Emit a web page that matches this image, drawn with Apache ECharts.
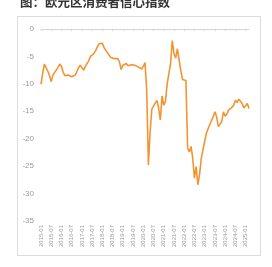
<!DOCTYPE html>
<html>
<head>
<meta charset="utf-8">
<script src="https://cdn.jsdelivr.net/npm/echarts@6/dist/echarts.min.js"></script>
<style>
  html, body { margin: 0; padding: 0; background: #fff; }
  #chart { width: 272px; height: 267px; }
</style>
</head>
<body>
<div id="chart"></div>
<script>
// 欧元区消费者信心指数 (2015-01 ~ 2025-03, 月度)
const titleText = '图：欧元区消费者信心指数';

const startYear = 2015;
const months = [];
for (let i = 0; i < 123; i++) {
  const y = startYear + Math.floor(i / 12);
  const m = (i % 12) + 1;
  months.push(y + '-' + (m < 10 ? '0' + m : m));
}

const values2015 = [-10.1, -8.0, -6.4, -6.7, -7.7, -8.5, -9.6, -8.4, -7.9, -7.6, -7.0, -6.4];
const values2016 = [-6.8, -7.9, -8.5, -8.3, -8.4, -8.3, -8.7, -8.5, -8.4, -7.8, -7.1, -6.6];
const values2017 = [-6.6, -7.5, -6.8, -6.5, -5.8, -5.0, -4.7, -4.5, -4.0, -3.3, -2.7, -2.4];
const values2018 = [-2.6, -3.4, -3.9, -4.2, -4.8, -5.2, -5.2, -5.4, -5.6, -5.4, -6.0, -7.4];
const values2019 = [-6.6, -6.4, -6.3, -6.7, -6.6, -6.5, -6.7, -6.6, -6.8, -6.9, -7.0, -7.3];
const values2020 = [-6.8, -6.1, -11.1, -24.8, -18.8, -14.6, -14.5, -13.5, -13.0, -14.4, -16.6, -12.2];
const values2021 = [-13.9, -13.2, -10.0, -9.9, -6.3, -2.1, -4.5, -5.3, -3.6, -5.6, -7.6, -9.2];
const values2022 = [-9.4, -9.4, -21.7, -22.4, -21.4, -23.6, -27.2, -25.1, -28.4, -26.5, -23.6, -22.0];
const values2023 = [-20.5, -19.0, -18.8, -17.4, -17.3, -16.0, -15.1, -16.0, -17.8, -17.9, -16.9, -15.1];
const values2024 = [-15.9, -15.5, -14.8, -14.6, -14.3, -13.9, -13.0, -13.4, -12.8, -12.5, -13.6, -14.4];
const values2025 = [-14.2, -13.6, -14.5];

const confidence = [].concat(values2015, values2016, values2017, values2018, values2019,
  values2020, values2021, values2022, values2023, values2024, values2025);

const yTicks = [0, -5, -10, -15, -20, -25, -30, -35];

const chart = echarts.init(document.getElementById('chart'));
chart.setOption({
  backgroundColor: '#fff',
  animation: false,
  title: {
    text: titleText,
    left: 20,
    top: -4,
    padding: 0,
    textStyle: { fontSize: 12.5, fontWeight: 'bold', color: '#333', fontFamily: 'Noto Sans CJK SC' }
  },
  graphic: [{
    type: 'rect',
    shape: { x: 17.5, y: 16.5, width: 243, height: 239 },
    style: { fill: 'none', stroke: '#dcdcdc', lineWidth: 1 },
    silent: true,
    z: -1
  }],
  grid: { left: 41, right: 23, top: 29, bottom: 46 },
  xAxis: [{
    type: 'category',
    data: months,
    boundaryGap: false,
    axisLine: { show: false },
    axisTick: { show: false },
    axisLabel: {
      interval: 5,
      rotate: 90,
      fontSize: 6,
      margin: 4,
      color: '#9a9a9a',
      fontFamily: 'Liberation Sans'
    },
    splitLine: { show: false }
  }, {
    type: 'category',
    data: months,
    position: 'top',
    boundaryGap: false,
    axisLine: { show: true, lineStyle: { color: '#d6d6d6', width: 1 } },
    axisTick: { show: true, inside: true, interval: 5, length: 2, lineStyle: { color: '#d6d6d6' } },
    axisLabel: { show: false },
    splitLine: { show: false }
  }],
  yAxis: {
    type: 'value',
    min: yTicks[yTicks.length - 1],
    max: yTicks[0],
    interval: 5,
    axisLine: { show: false },
    axisTick: { show: false },
    splitLine: { show: false },
    axisLabel: { fontSize: 8, margin: 7, color: '#9a9a9a', fontFamily: 'Liberation Sans' }
  },
  series: [{
    type: 'line',
    data: confidence,
    showSymbol: false,
    symbol: 'none',
    lineStyle: { color: '#f39433', width: 1.6 },
    z: 3
  }]
});
</script>
</body>
</html>
